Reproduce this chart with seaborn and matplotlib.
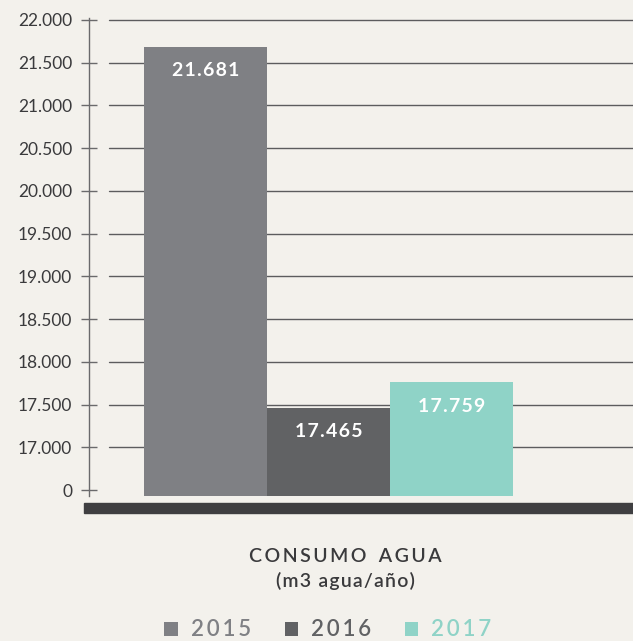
import matplotlib
matplotlib.use("Agg")
import matplotlib.pyplot as plt
from matplotlib.patches import Rectangle, Patch
import seaborn as sns
import pandas as pd

# Water consumption per year
years = ["2015", "2016", "2017"]
consumo = [21681, 17465, 17759]
colors = ["#7f8084", "#616264", "#8fd3c7"]

# Axis break: "0" sits one step below 17.000
tick_values = [16500, 17000, 17500, 18000, 18500, 19000, 19500, 20000, 20500, 21000, 21500, 22000]
tick_labels = ["0", "17.000", "17.500", "18.000", "18.500", "19.000", "19.500",
               "20.000", "20.500", "21.000", "21.500", "22.000"]

BG = "#f3f1ec"
TXT = "#3a3a3c"
HAIR = "\u200a"


def spaced(s, sep=HAIR):
    return sep.join(s)


sns.set_theme(style="white")
plt.rcParams["font.family"] = ["Lato", "DejaVu Sans"]

fig = plt.figure(figsize=(6.33, 6.41), dpi=100, facecolor=BG)
ax = fig.add_axes([89 / 633, 145 / 641, 544 / 633, 478 / 641])
ax.set_facecolor(BG)

df = pd.DataFrame({"year": years, "consumo": consumo})
sns.barplot(data=df, x="year", y="consumo", hue="year", palette=colors,
            width=1.0, legend=False, ax=ax, saturation=1.0, zorder=3,
            edgecolor="none", linewidth=0)

ax.set_xlim(-0.949, 3.471)
ax.set_ylim(16431, 22023)

# horizontal guides start a little right of the axis line
for v in tick_values[1:]:
    ax.axhline(v, xmin=20 / 544, xmax=1.0, color="#5c5c5e", lw=1.0, zorder=1)

ax.set_yticks(tick_values)
ax.set_yticklabels(tick_labels)
ax.tick_params(axis="y", direction="inout", length=12, width=1, color="#6a6a6c",
               labelsize=12.5, labelcolor=TXT, pad=6, left=True)
ax.set_xticks([])
ax.set_xlabel("")
ax.set_ylabel("")
for s in ["top", "right", "bottom"]:
    ax.spines[s].set_visible(False)
ax.spines["left"].set_color("#6a6a6c")
ax.spines["left"].set_linewidth(1)

# value labels inside the bars
for i, v in enumerate(consumo):
    txt = f"{v:,}".replace(",", ".")
    ax.annotate(spaced(txt), (i, v), xytext=(0, -17), textcoords="offset points",
                ha="center", va="center", color="white", fontsize=14,
                fontweight="bold", zorder=5)

# dark base band under the chart
fig.patches.append(Rectangle((84 / 633, (641 - 513) / 641), (633 - 84) / 633, 10 / 641,
                             transform=fig.transFigure, color="#3f3f41", zorder=2))

title = (HAIR * 2 + "  ").join(spaced(w, HAIR + HAIR) for w in ["CONSUMO", "AGUA"])
fig.text(345 / 633, 1 - 556 / 641, title,
         ha="center", va="center", fontsize=14, color=TXT, fontweight="semibold")
fig.text(345 / 633, 1 - 581 / 641, spaced("(m3 agua/año)"), ha="center", va="center",
         fontsize=14, color=TXT, fontweight="semibold")

handles = [Patch(facecolor=c, edgecolor="none") for c in colors]
leg = fig.legend(handles, [spaced(y, HAIR + HAIR) for y in years], ncol=3, frameon=False,
                 loc="center", bbox_to_anchor=(328 / 633, 1 - 630 / 641),
                 prop={"size": 16, "weight": "semibold"}, labelcolor=colors,
                 handlelength=0.6, handleheight=0.6,
                 handletextpad=0.6, columnspacing=1.5)

fig.savefig("out.png", dpi=100, facecolor=BG)
